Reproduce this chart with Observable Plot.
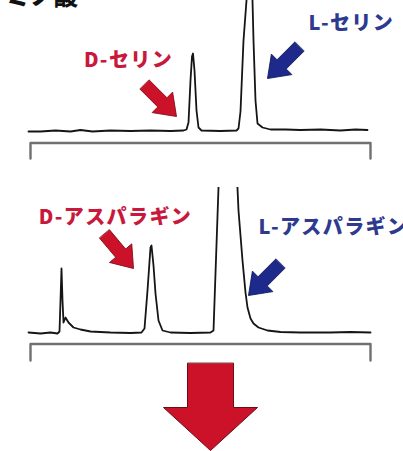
<!DOCTYPE html>
<html>
<head>
<meta charset="utf-8">
<script src="https://cdn.jsdelivr.net/npm/d3@7"></script>
<script src="https://cdn.jsdelivr.net/npm/@observablehq/plot@0.6"></script>
<style>
  html, body { margin: 0; padding: 0; background: #fff; }
  #wrap { position: relative; width: 403px; height: 451px; overflow: hidden; }
  #title { position: absolute; left: 6px; top: -17px; font: 900 24px "Noto Sans CJK JP", sans-serif; line-height: 24px; color: #111; white-space: nowrap; }
  svg { display: block; }
</style>
</head>
<body>
<div id="wrap">
  <div id="plots"></div>
  <div id="title">ミノ酸</div>
</div>
<script>
// ---- data ----
const titleText = "ミノ酸";

// Chromatogram 1 (serine): retention (a.u.), signal (a.u.)
const serTime = [0,12,27,42,52,64,82,102,122,142,155,158,160,162,163.5,164.5,166,168,170,173,192,208,210,212,215,218,221,224,225,227,229,234,242,257,272,292,312,327,339];
const serSignal = [0,0,1,0,1.5,0,1,0.5,1,0.5,1,2,9,51,75,78,61,21,4,1,0.5,1,3,20,91,131,165,131,91,31,8,4,2,2,1.5,2,1,2,1.5];

// Chromatogram 2 (asparagine)
const asnTime = [0,12,22,29,31,32,33,34,35,37,40,45,52,62,82,102,113,116,119,122,123,125,127,130,134,142,162,182,185,187,190,192,199,207,210,214,217,219,222,225,230,239,252,272,302,322,342];
const asnSignal = [1,0,1,0,2,33,65,33,11,16,11,6,4,2,1,0.5,1,5,43,86,88,68,40,13,3,1,0.5,1,3,60,146,190,230,190,123,73,41,26,15,10,6,3,1.5,1,1,1.5,1];

// Bracket under each trace (time, signal)
const bracketTime = [2, 2, 342, 342];
const bracket1Signal = [-27, -11.5, -11.5, -27];
const bracket2Signal = [-27, -10.5, -10.5, -27];

// Peak labels
const serLabels = ["D-セリン", "L-セリン"];
const serLabelTime = [100, 280];
const serLabelSignal = [71, 108];
const asnLabels = ["D-アスパラギン", "L-アスパラギン"];
const asnLabelTime = [87, 230];
const asnLabelSignal = [116, 106];
const labelColors = ["#c8193c", "#2d3a8e"];

// Arrow pointers (tip positions, direction in degrees)
const serArrowTime = [148, 239];
const serArrowSignal = [15, 53];
const serArrowAngle = [135, 225];
const asnArrowTime = [105, 220];
const asnArrowSignal = [65, 38];
const asnArrowAngle = [140, 225];
const arrowFill = ["#cc1229", "#1d2a8c"];
const arrowEdge = ["#7a0a18", "#0e164f"];

// ---- helpers ----
const zip = (t, v) => t.map((d, i) => ({t: d, v: v[i]}));
const blockArrow = (shaft, head, headLen) => ({
  draw(ctx, l) {
    ctx.moveTo(-shaft, 0);
    ctx.lineTo(-shaft, -l + headLen);
    ctx.lineTo(-head, -l + headLen);
    ctx.lineTo(0, -l);
    ctx.lineTo(head, -l + headLen);
    ctx.lineTo(shaft, -l + headLen);
    ctx.lineTo(shaft, 0);
    ctx.closePath();
  }
});
const smallArrow = blockArrow(6.5, 14.5, 20);
const bigArrow = blockArrow(23, 47, 43);

const xScale = {domain: [0, 342], range: [28, 370], axis: null};
const font = '"Noto Sans CJK JP", sans-serif';

function panel({height, marginTop, baseline, trace, bracket, labels, lt, lv, at, av, aa, extra = []}) {
  const lab = labels.map((s, i) => ({s, t: lt[i], v: lv[i], c: labelColors[i], anchor: i === 0 ? "middle" : "start"}));
  const arr = at.map((t, i) => ({t, v: av[i], a: aa[i], f: arrowFill[i], e: arrowEdge[i]}));
  return Plot.plot({
    width: 403, height, marginLeft: 0, marginRight: 0, marginTop, marginBottom: 0,
    style: {fontFamily: font, letterSpacing: "1.4px", background: "transparent"},
    x: xScale,
    y: {domain: [0, 100], range: [baseline, baseline - 100], axis: null},
    marks: [
      Plot.line(zip(bracketTime, bracket), {x: "t", y: "v", stroke: "#707070", strokeWidth: 2.4}),
      Plot.line(trace, {x: "t", y: "v", stroke: "#151515", strokeWidth: 1.8, clip: true}),
      Plot.vector(arr, {x: "t", y: "v", rotate: "a", length: 45, anchor: "end", shape: smallArrow, fill: "f", stroke: "e", strokeWidth: 0.8}),
      Plot.text(lab.filter(d => d.anchor === "middle"), {x: "t", y: "v", text: "s", fill: "c", fontSize: 20, fontWeight: 900, textAnchor: "middle"}),
      Plot.text(lab.filter(d => d.anchor === "start"), {x: "t", y: "v", text: "s", fill: "c", fontSize: 20, fontWeight: 900, textAnchor: "start"}),
      ...extra
    ]
  });
}

const p1 = panel({
  height: 160, marginTop: 0, baseline: 131,
  trace: zip(serTime, serSignal), bracket: bracket1Signal,
  labels: serLabels, lt: serLabelTime, lv: serLabelSignal,
  at: serArrowTime, av: serArrowSignal, aa: serArrowAngle
});

// big downward result arrow below the second trace
const resultArrow = [{t: 182, v: -117}];
const p2 = panel({
  height: 291, marginTop: 27, baseline: 173,
  trace: zip(asnTime, asnSignal), bracket: bracket2Signal,
  labels: asnLabels, lt: asnLabelTime, lv: asnLabelSignal,
  at: asnArrowTime, av: asnArrowSignal, aa: asnArrowAngle,
  extra: [Plot.vector(resultArrow, {x: "t", y: "v", rotate: 180, length: 87, anchor: "end", shape: bigArrow, fill: "#cc1229", stroke: "#6e0a16", strokeWidth: 1})]
});

const host = document.getElementById("plots");
host.append(p1, p2);
</script>
</body>
</html>
